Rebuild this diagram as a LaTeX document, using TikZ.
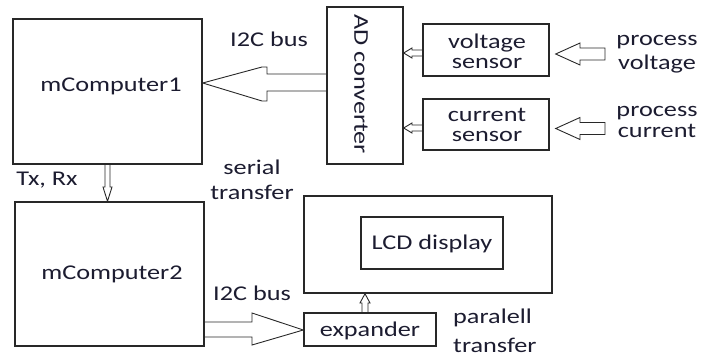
\documentclass[tikz,border=0pt]{standalone}
\usepackage{fontspec}
\setmainfont{Carlito}
\usetikzlibrary{calc}
\definecolor{txt}{RGB}{28,28,48}
\definecolor{ln}{RGB}{40,40,40}
\newcommand\hs[1]{\scalebox{1.25}[1]{#1}}
\begin{document}
\begin{tikzpicture}[x=1pt,y=-1pt,
  box/.style={draw=ln,line width=1.4pt,minimum width=#1,inner sep=0pt},
  lbl/.style={text=txt,font=\fontsize{21}{21}\selectfont,inner sep=0pt,align=center},
  arr/.style={draw=ln,line width=0.9pt,line join=miter}]
\useasboundingbox (0,0) rectangle (701,358);
% boxes
\node[box=189pt,minimum height=145pt] (mc1) at (107.5,91.5) {};
\node[box=76pt,minimum height=157pt] (adc) at (365,85.5) {};
\node[box=126pt,minimum height=52pt] (vs) at (486,50) {};
\node[box=126pt,minimum height=51pt] (cs) at (486,124.5) {};
\node[box=189pt,minimum height=144pt] (mc2) at (109.5,274) {};
\node[box=248pt,minimum height=97pt] (lcdout) at (428,244.5) {};
\node[box=142pt,minimum height=52pt] (lcd) at (432,243) {};
\node[box=132pt,minimum height=33pt] (exp) at (370,329.5) {};
% texts
\node[lbl] (t-mc1) at (111,86) {\hs{mComputer1}};
\node[lbl] (t-mc2) at (112,274) {\hs{mComputer2}};
\node[lbl,rotate=-90] (t-adc) at (361,84) {\hs{AD converter}};
\node[lbl] (t-vs) at (487,51) {\hs{voltage}\\[-1pt]\hs{sensor}};
\node[lbl] (t-cs) at (487,125) {\hs{current}\\[-1pt]\hs{sensor}};
\node[lbl] (t-lcd) at (432,244) {\hs{LCD display}};
\node[lbl] (t-exp) at (370,331) {\hs{expander}};
\node[lbl] (t-i2c1) at (269,39) {\hs{I2C bus}};
\node[lbl] (t-i2c2) at (252,293) {\hs{I2C bus}};
\node[lbl] (t-txrx) at (47,180) {\hs{Tx, Rx}};
\node[lbl] (t-ser) at (252,180) {\hs{serial}\\[4pt]\hs{transfer}};
\node[lbl] (t-pv) at (657,54) {\hs{process}\\[3pt]\hs{voltage}};
\node[lbl] (t-pc) at (657,122) {\hs{process}\\[0pt]\hs{current}};
\node[lbl,anchor=west,align=left] (t-par) at (453,331) {\hs{paralell}\\[8pt]\hs{transfer}};
% arrows
\draw[arr] (adc.west |- 0,74) -- (267,74) -- (267,67) -- (262,67) -- (mc1.east |- 0,83)
  -- (262,101) -- (267,101) -- (267,91) -- (adc.west |- 0,91);
\draw[arr] (vs.west |- 0,50) -- (412,50) -- (412,48) -- (adc.east |- 0,53)
  -- (412,58) -- (412,56) -- (vs.west |- 0,56);
\draw[arr] (cs.west |- 0,125) -- (412,125) -- (412,123) -- (adc.east |- 0,128)
  -- (412,133) -- (412,131) -- (cs.west |- 0,131);
\draw[arr] ($(vs.east |- 0,54)+(6,0)$) -- (580,43) -- (580,48) -- (605,48) -- (605,60)
  -- (580,60) -- (580,65) -- cycle;
\draw[arr] ($(cs.east |- 0,128.5)+(6,0)$) -- (580,117.5) -- (580,122.5) -- (605,122.5) -- (605,134.5)
  -- (580,134.5) -- (580,139.5) -- cycle;
\draw[arr] (mc1.south -| 105,0) -- (105,187) -- (103,187) -- (mc2.north -| 107.5,0)
  -- (112,187) -- (110,187) -- (mc1.south -| 110,0);
\draw[arr] (mc2.east |- 0,322) -- (252,322) -- (252,313) -- (exp.west |- 0,330)
  -- (252,345) -- (252,337) -- (mc2.east |- 0,337);
\draw[arr] (exp.north -| 362,0) -- (362,303) -- (360,303) -- (lcdout.south -| 365,0)
  -- (370,303) -- (368,303) -- (exp.north -| 368,0);
\end{tikzpicture}
\end{document}
